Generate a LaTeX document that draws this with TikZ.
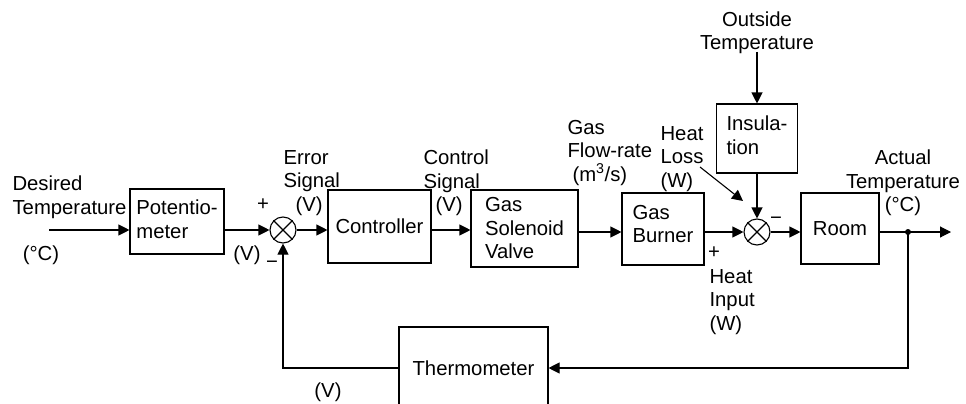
\documentclass[tikz,border=0pt]{standalone}
\usepackage{fontspec}
\setmainfont{Liberation Sans}
\usetikzlibrary{arrows.meta}
\begin{document}
\begin{tikzpicture}[x=1pt,y=-1pt, line width=1.1pt,
  every node/.style={font=\fontsize{20.3}{23.5}\selectfont, inner sep=0pt},
  blk/.style={draw, align=left},
  lbl/.style={align=center},
  lbll/.style={anchor=west, align=left},
  sumj/.style={draw, circle, minimum size=26pt},
  arr/.style={-{Triangle[length=11pt,width=11pt]}}]
\clip (0,0) rectangle (966,404);

% blocks
\node[blk, minimum width=94pt, minimum height=65pt, text depth=5pt] (pot) at (177,221.5) {Potentio-\\meter};
\node[blk, minimum width=103pt, minimum height=73pt] (ctrl) at (379.5,226.5) {Controller};
\node[blk, minimum width=107pt, minimum height=77pt] (valve) at (524.5,228.5) {Gas\\Solenoid\\Valve};
\node[blk, minimum width=82pt, minimum height=72pt, text depth=10pt] (burner) at (663,229) {Gas\\Burner};
\node[blk, minimum width=81pt, minimum height=69pt, text depth=7pt] (insul) at (757,138.5) {Insula-\\tion};
\node[blk, minimum width=78pt, minimum height=71pt] (room) at (840,228.5) {Room};
\node[blk, minimum width=149pt, minimum height=82pt] (thermo) at (473.5,368) {Thermometer};

% summing junctions
\node[sumj] (s1) at (283,230) {};
\node[sumj] (s2) at (757,232) {};
\draw (s1.north west) -- (s1.south east) (s1.north east) -- (s1.south west);
\draw (s2.north west) -- (s2.south east) (s2.north east) -- (s2.south west);

% labels
\node[lbll] (ldes) at (12,197) {Desired\\Temperature};
\node (ldegc) at (41,255) {(°C)};
\node (lplus1) at (263,205) {+};
\node (lv1) at (247,255) {(V)};
\node (lmin1) at (272,265) {−};
\node[lbll] (lerr) at (283,183) {Error\\Signal\\\hspace*{12pt}(V)};
\node[lbll] (lctl) at (423,183) {Control\\Signal\\\hspace*{12pt}(V)};
\node[lbll] (lgas) at (567,153) {Gas\\Flow-rate\\\hspace*{5pt}(m\textsuperscript{3}/s)};
\node[lbll] (lhl) at (660,159) {Heat\\Loss\\(W)};
\node[lbl] (lout) at (757,33) {Outside\\Temperature};
\node[lbl] (lact) at (903,183) {Actual\\Temperature\\(°C)};
\node (lmin2) at (776,221) {−};
\node (lplus2) at (714,253) {+};
\node[lbll] (lhi) at (709,302) {Heat\\Input\\(W)};
\node (lv2) at (328,392) {(V)};

% connectors
\coordinate (in) at (49,230);
\coordinate (out) at (951,232);
\coordinate (tap) at (908,232);
\coordinate (otop) at (757,52);
\coordinate (hl1) at (700,167);
\coordinate (hl2) at (743,201);

\draw[arr] (in) -- (in -| pot.west);
\draw[arr] (pot.east |- s1) -- (s1.west);
\draw[arr] (s1.east) -- (s1 -| ctrl.west);
\draw[arr] (ctrl.east |- s1) -- (s1 -| valve.west);
\draw[arr] (valve.east |- s2) -- (s2 -| burner.west);
\draw[arr] (burner.east |- s2) -- (s2.west);
\draw[arr] (s2.east) -- (s2 -| room.west);
\draw[arr] (room.east |- s2) -- (out);
\fill (tap) circle (3pt);
\draw[arr] (tap) |- (thermo.east);
\draw[arr] (thermo.west) -| (s1.south);
\draw[arr] (otop) -- (insul.north);
\draw[arr] (insul.south) -- (s2.north);
\draw[arr] (hl1) -- (hl2);
\end{tikzpicture}
\end{document}
